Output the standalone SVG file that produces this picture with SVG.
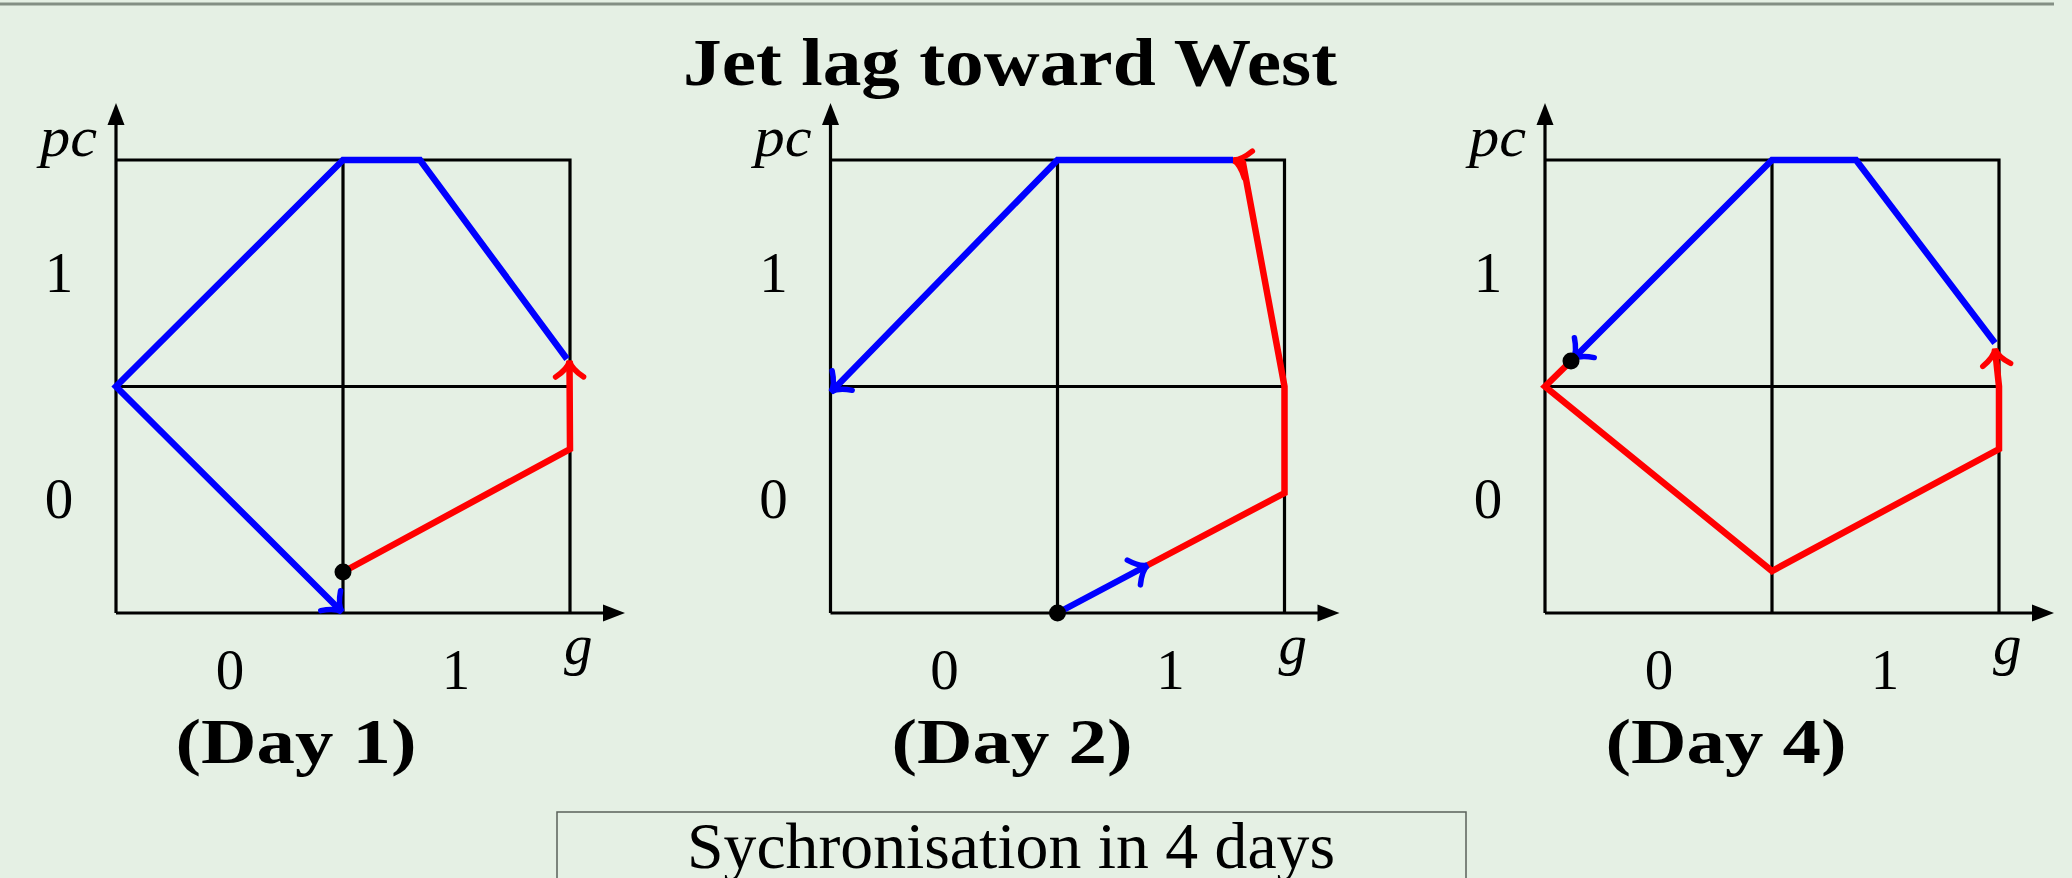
<svg xmlns="http://www.w3.org/2000/svg" width="2072" height="878" viewBox="0 0 2072 878">
<style>
.grid{fill:none;stroke:#000;stroke-width:3.2;stroke-linejoin:miter}
.axis{fill:none;stroke:#000;stroke-width:3.2}
.blue{fill:none;stroke:#0000ff;stroke-width:6.5;stroke-linejoin:miter}
.red{fill:none;stroke:#ff0000;stroke-width:6.5;stroke-linejoin:miter}
.num{font-family:"Liberation Serif","DejaVu Serif",serif;font-size:57px;fill:#000;text-anchor:middle}
.var{font-family:"Liberation Serif","DejaVu Serif",serif;font-style:italic;font-size:57px;fill:#000}
.day{font-family:"Liberation Serif","DejaVu Serif",serif;font-weight:bold;font-size:64px;fill:#000;text-anchor:middle}
.title{font-family:"Liberation Serif","DejaVu Serif",serif;font-weight:bold;font-size:68px;fill:#000;text-anchor:middle}
.caption{font-family:"Liberation Serif","DejaVu Serif",serif;font-size:65px;fill:#000;text-anchor:middle}
</style>
<defs>
<marker id="axArrow" markerUnits="userSpaceOnUse" markerWidth="40" markerHeight="40" refX="0" refY="0" orient="auto" overflow="visible">
<path d="M10,0 L-12,-8.5 L-12,8.5 Z" fill="#000"/>
</marker>
<marker id="toBlue" markerUnits="userSpaceOnUse" markerWidth="40" markerHeight="40" refX="0" refY="0" orient="auto" overflow="visible">
<path d="M-16,-14 C-10,-5 -4,-1 0,0 C-4,1 -10,5 -16,14" fill="none" stroke="#0000ff" stroke-width="5.5" stroke-linecap="round"/>
</marker>
<marker id="toRed" markerUnits="userSpaceOnUse" markerWidth="40" markerHeight="40" refX="0" refY="0" orient="auto" overflow="visible">
<path d="M-16,-14 C-10,-5 -4,-1 0,0 C-4,1 -10,5 -16,14" fill="none" stroke="#ff0000" stroke-width="5.5" stroke-linecap="round"/>
</marker>
<g id="frame">
<path class="grid" d="M116,160 H570 V613 M343,160 V613 M116,386.5 H570"/>
<path class="axis" d="M116,613 V113" marker-end="url(#axArrow)"/>
<path class="axis" d="M116,613 H615" marker-end="url(#axArrow)"/>
<text class="var" x="40" y="156" textLength="57" lengthAdjust="spacingAndGlyphs">pc</text>
<text class="num" x="59" y="292">1</text>
<text class="num" x="59" y="518">0</text>
<text class="num" x="230" y="689">0</text>
<text class="num" x="456" y="689">1</text>
<text class="var" x="564" y="664">g</text>
</g>
</defs>
<rect x="0" y="0" width="2072" height="878" fill="#e5f0e4"/>
<line x1="0" y1="4" x2="2054" y2="4" stroke="#848f84" stroke-width="3"/>
<g id="title">
<text class="title" x="1010" y="85" textLength="654" lengthAdjust="spacingAndGlyphs">Jet lag toward West</text>
</g>
<g id="panel-day1">
<use href="#frame"/>
<text class="day" x="296" y="763" textLength="241" lengthAdjust="spacingAndGlyphs">(Day 1)</text>
</g>
<g id="panel-day2">
<use href="#frame" transform="translate(714.5,0)"/>
<text class="day" x="1012" y="763" textLength="241" lengthAdjust="spacingAndGlyphs">(Day 2)</text>
</g>
<g id="panel-day4">
<use href="#frame" transform="translate(1429,0)"/>
<text class="day" x="1726" y="763" textLength="241" lengthAdjust="spacingAndGlyphs">(Day 4)</text>
</g>
<g id="connectors">
<path class="blue" d="M567,359 L420,160 L343,160 L116,386.5 L342,612" marker-end="url(#toBlue)"/>
<path class="red" d="M343,572 L570,449 L569.5,361" marker-end="url(#toRed)"/>
<path class="blue" d="M1057.5,613 L1148,565" marker-end="url(#toBlue)"/>
<path class="red" d="M1148,565 L1284.5,493 L1284.5,386.5 L1243,163 L1233,160" marker-end="url(#toRed)"/>
<path class="blue" d="M1233,160 L1057.5,160 L831,392" marker-end="url(#toBlue)"/>
<path class="red" d="M1571,361 L1545,386.5 L1772,571 L1999,449 L1999,386.5 L1995,349" marker-end="url(#toRed)"/>
<path class="blue" d="M1995,343 L1856,160 L1772,160 L1573,359" marker-end="url(#toBlue)"/>
</g>
<g id="dots">
<circle cx="343" cy="572" r="8.5"/>
<circle cx="1057.5" cy="613" r="8.5"/>
<circle cx="1571" cy="361" r="8.5"/>
</g>
<g id="caption">
<rect x="557" y="812" width="909" height="80" fill="none" stroke="#5a605a" stroke-width="1.5"/>
<text class="caption" x="1011" y="868" textLength="648" lengthAdjust="spacingAndGlyphs">Sychronisation in 4 days</text>
</g>
</svg>
